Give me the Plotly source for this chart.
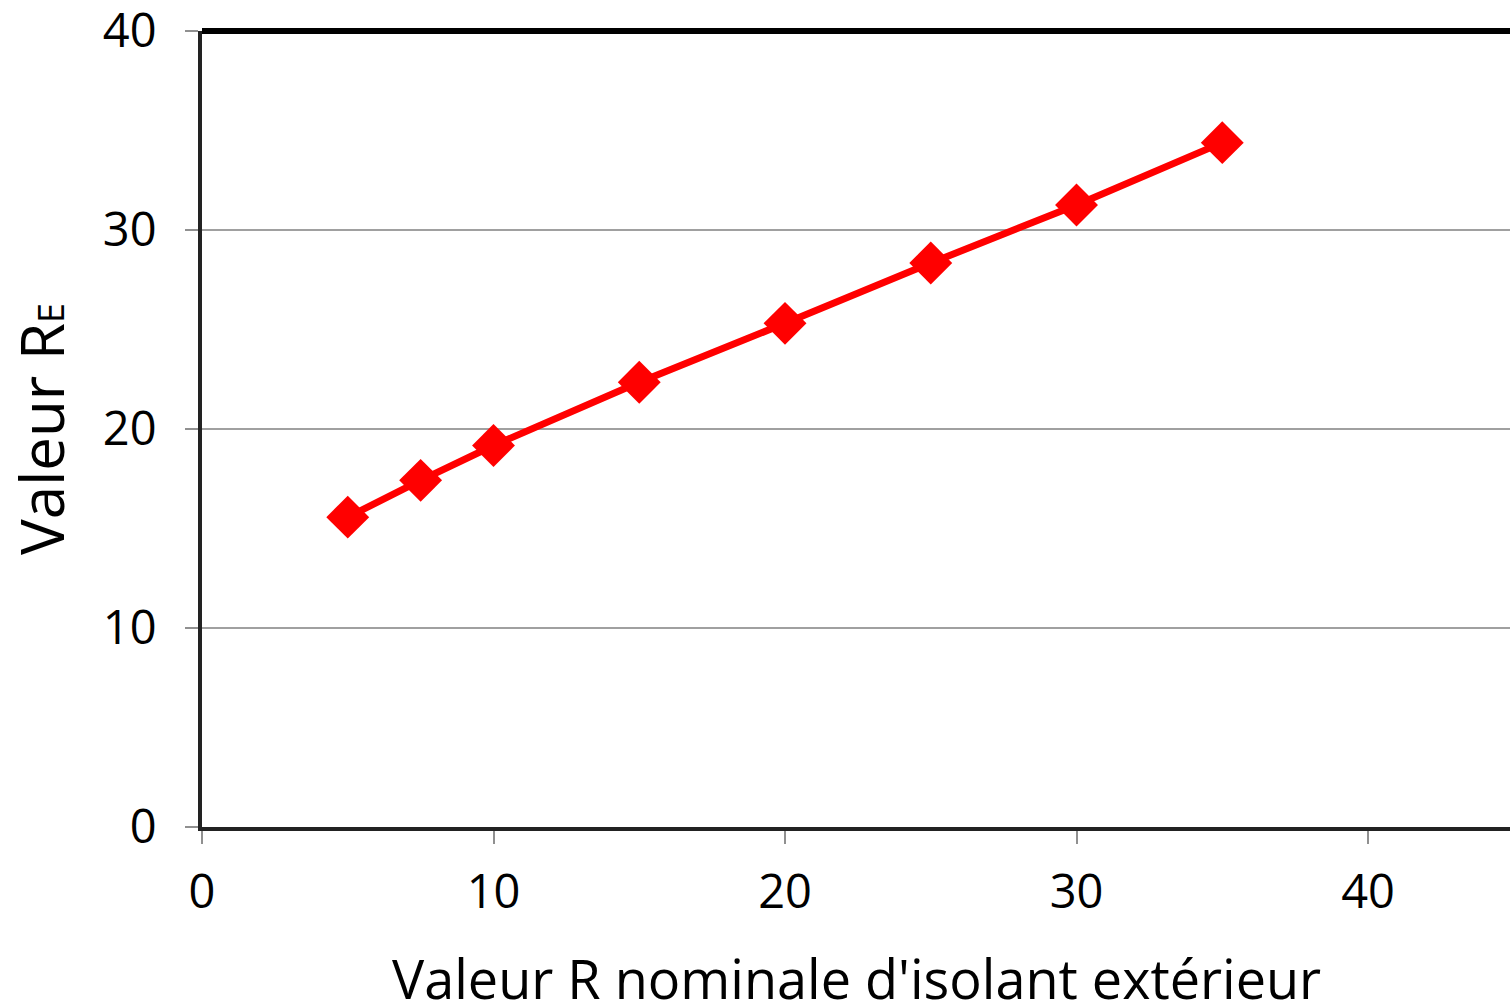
import plotly.graph_objects as go

r_nominal = [5, 7.5, 10, 15, 20, 25, 30, 35]
r_effective = [15.57, 17.42, 19.17, 22.35, 25.31, 28.34, 31.26, 34.39]

x_ticks = [0, 10, 20, 30, 40]
y_ticks = [0, 10, 20, 30, 40]

x_title = "Valeur R nominale d'isolant extérieur"
y_title = "Valeur R<span style='font-size:36px'>E</span>"

FONT = "Open Sans"

fig = go.Figure()
fig.add_trace(go.Scatter(
    x=r_nominal, y=r_effective, mode="lines+markers",
    line=dict(color="#FF0000", width=7),
    marker=dict(symbol="diamond", size=33, color="#FF0000"),
    showlegend=False, cliponaxis=False,
))

fig.update_layout(
    width=1510, height=1007,
    margin=dict(l=202, r=0, t=31, b=180),
    paper_bgcolor="white", plot_bgcolor="white",
    font=dict(family=FONT, size=47, color="#000000"),
    xaxis=dict(
        range=[0, 44.87], tickvals=x_ticks, ticks="outside", ticklen=13,
        tickcolor="#909090", tickwidth=2, showgrid=False, zeroline=False,
        showline=True, linecolor="#222222", linewidth=4,
        ticklabelstandoff=8, automargin=False, ticklabeloverflow="allow",
    ),
    yaxis=dict(
        range=[0, 40], tickvals=y_ticks, ticks="outside", ticklen=13,
        tickcolor="#909090", tickwidth=2, showgrid=True, gridcolor="#A0A0A0",
        gridwidth=2, zeroline=False,
        showline=True, linecolor="#222222", linewidth=4,
        ticklabelstandoff=19, automargin=False, ticklabeloverflow="allow",
        title=dict(text=y_title, standoff=22, font=dict(size=60)),
    ),
)

plot_h = 1007 - 31 - 180
fig.add_annotation(text=x_title, xref="paper", yref="paper", x=0.5,
                   y=-(978 - 827) / plot_h, xanchor="center", yanchor="middle",
                   showarrow=False, font=dict(size=54, family=FONT, color="#000000"))

fig.add_shape(type="line", xref="paper", yref="paper", x0=0, x1=1, y0=1, y1=1,
              line=dict(color="#000000", width=6))

fig.write_html("out.html", config={"displayModeBar": False},
               post_script="document.body.style.margin='0';document.body.style.overflow='hidden';")
